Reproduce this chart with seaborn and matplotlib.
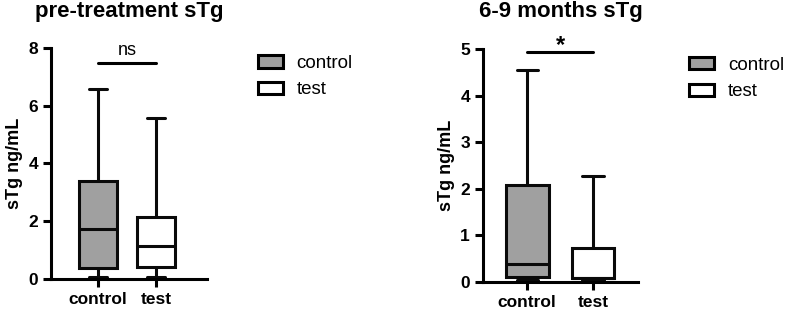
import numpy as np
import pandas as pd
import matplotlib
matplotlib.use("Agg")
import matplotlib.pyplot as plt
from matplotlib.patches import Patch
import seaborn as sns

# five-number summaries (min, q1, median, q3, max)
groups = ["control", "test"]
pre_control = [0.07, 0.38, 1.72, 3.39, 6.57]
pre_test = [0.07, 0.40, 1.14, 2.15, 5.57]
post_control = [0.04, 0.11, 0.38, 2.08, 4.55]
post_test = [0.05, 0.08, 0.09, 0.73, 2.28]

titles = ["pre-treatment sTg", "6-9 months sTg"]
sig_labels = ["ns", "*"]
sig_heights = [7.47, 4.94]
y_max = [8, 5]

sns.set_theme(style="ticks")
plt.rcParams["font.family"] = ["Liberation Sans", "DejaVu Sans"]
plt.rcParams["text.color"] = "black"
plt.rcParams["axes.labelcolor"] = "black"
plt.rcParams["xtick.color"] = "black"
plt.rcParams["ytick.color"] = "black"

fill = {"control": "#a0a0a0", "test": "white"}
lw = 2.2

fig = plt.figure(figsize=(7.87, 3.11), dpi=100)
ax1 = fig.add_axes([0.065, 0.103, 0.198, 0.743])
ax2 = fig.add_axes([0.614, 0.093, 0.197, 0.749])

panels = [(ax1, pre_control, pre_test), (ax2, post_control, post_test)]
legend_pos = [(0.328, 0.823), (0.876, 0.817)]

for i, (ax, ctrl, tst) in enumerate(panels):
    df = pd.DataFrame({
        "group": ["control"] * len(ctrl) + ["test"] * len(tst),
        "value": ctrl + tst,
    })
    sns.boxplot(data=df, x="group", y="value", hue="group", palette=fill,
                order=groups, whis=(0, 100), width=0.65, linewidth=lw,
                linecolor="#0a0a0a", legend=False, ax=ax)
    ax.set_ylim(0, y_max[i])
    ax.set_yticks(range(0, y_max[i] + 1, 2 if y_max[i] == 8 else 1))
    if i == 0:
        ax.set_xlim(-0.81, 1.88)
    else:
        ax.set_xlim(-0.67, 1.69)
    ax.set_xlabel("")
    ax.set_ylabel("sTg ng/mL", fontsize=13, fontweight="bold")
    ax.set_title(titles[i], fontsize=16, fontweight="bold", pad=22 if i == 0 else 23)
    sns.despine(ax=ax)
    for side in ["left", "bottom"]:
        ax.spines[side].set_linewidth(lw)
        ax.spines[side].set_color("black")
    ax.tick_params(width=lw, length=6, labelsize=12.5)
    for lab in ax.get_xticklabels() + ax.get_yticklabels():
        lab.set_fontweight("bold")

    # significance bar between the two groups
    ax.plot([0, 1], [sig_heights[i]] * 2, color="black", lw=lw, clip_on=False)
    if i == 0:
        ax.text(0.5, sig_heights[i] + 0.02 * y_max[i], sig_labels[i], ha="center",
                va="bottom", fontsize=13)
    else:
        ax.text(0.5, sig_heights[i] - 0.02 * y_max[i], sig_labels[i], ha="center",
                va="bottom", fontsize=17, fontweight="bold")

    handles = [Patch(facecolor=fill[g], edgecolor="black", linewidth=lw, label=g) for g in groups]
    fig.legend(handles=handles, loc="upper left", bbox_to_anchor=legend_pos[i],
               bbox_transform=fig.transFigure, frameon=False, fontsize=13.5,
               handlelength=1.3, handleheight=0.62, borderpad=0, borderaxespad=0,
               labelspacing=0.5, handletextpad=0.75)

fig.savefig("out.png", dpi=100)
